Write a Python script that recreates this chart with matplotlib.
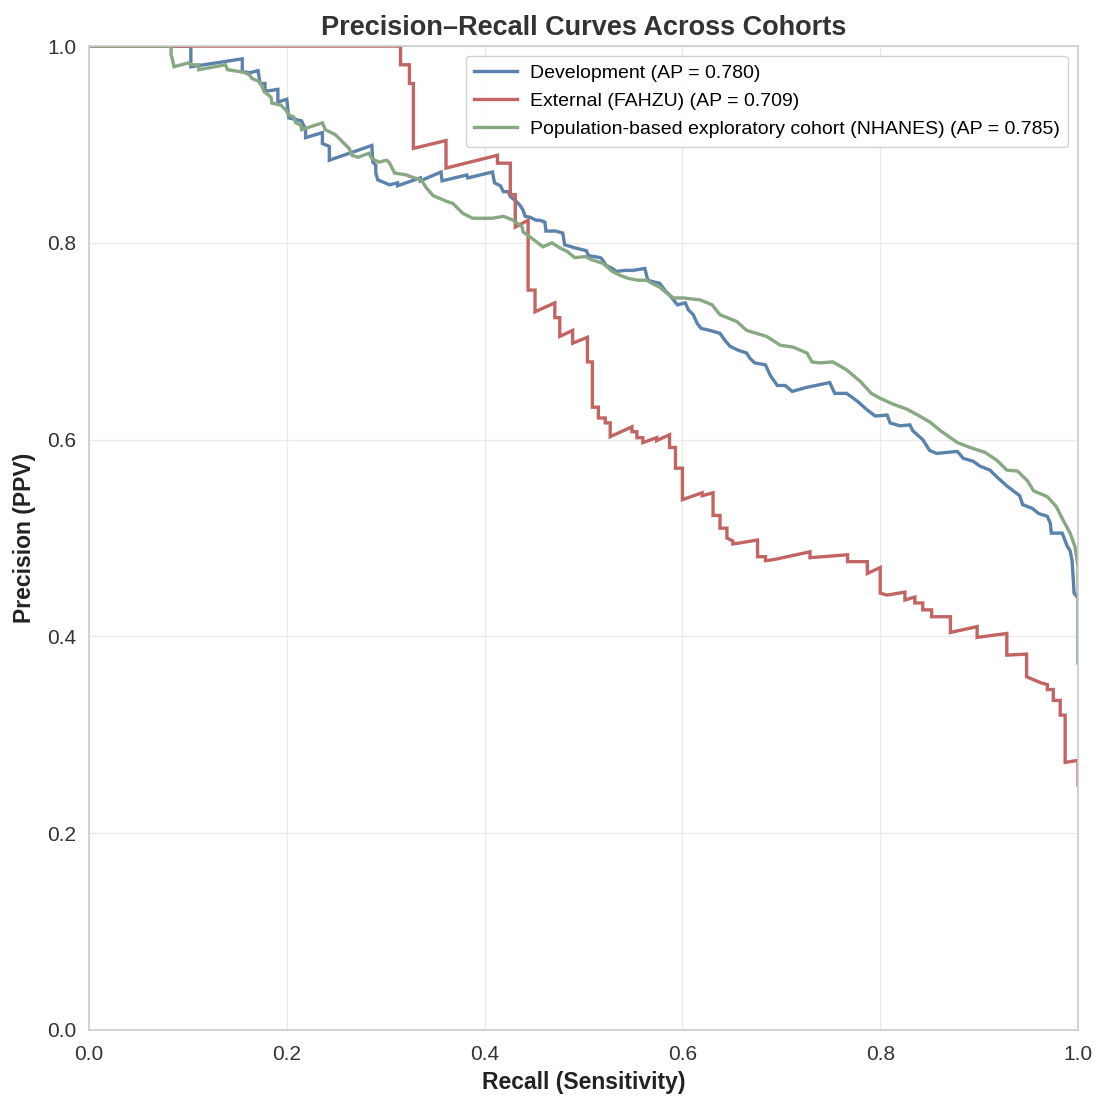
import numpy as np
import matplotlib
matplotlib.use("Agg")
import matplotlib.pyplot as plt

# ---- data (recall, precision vertices) ----
dev_recall = [0.0, 0.103, 0.103, 0.155, 0.155, 0.163, 0.171, 0.173, 0.178, 0.178,
              0.191, 0.191, 0.200, 0.202, 0.215, 0.219, 0.219, 0.236, 0.236, 0.243,
              0.243, 0.286, 0.287, 0.290, 0.290, 0.292, 0.304, 0.312, 0.312, 0.335,
              0.335, 0.356, 0.357, 0.382, 0.383, 0.408, 0.410, 0.416, 0.419, 0.424,
              0.426, 0.431, 0.436, 0.439, 0.441, 0.446, 0.452, 0.456, 0.461, 0.462,
              0.472, 0.479, 0.481, 0.491, 0.503, 0.505, 0.517, 0.519, 0.523, 0.529,
              0.533, 0.542, 0.550, 0.562, 0.565, 0.572, 0.577, 0.583, 0.587, 0.591,
              0.595, 0.603, 0.606, 0.611, 0.615, 0.619, 0.628, 0.638, 0.643, 0.648,
              0.656, 0.665, 0.668, 0.673, 0.684, 0.689, 0.696, 0.704, 0.711, 0.725,
              0.749, 0.754, 0.766, 0.777, 0.787, 0.795, 0.807, 0.810, 0.820, 0.830,
              0.833, 0.843, 0.850, 0.857, 0.878, 0.884, 0.894, 0.901, 0.911, 0.918,
              0.928, 0.941, 0.944, 0.954, 0.960, 0.969, 0.972, 0.973, 0.984, 0.989,
              0.992, 0.994, 0.995, 0.996, 1.0, 1.0]
dev_precision = [1.0, 1.0, 0.979, 0.987, 0.974, 0.973, 0.975, 0.962, 0.962, 0.954,
                 0.956, 0.943, 0.946, 0.927, 0.924, 0.915, 0.907, 0.912, 0.901, 0.898,
                 0.884, 0.899, 0.882, 0.879, 0.871, 0.864, 0.859, 0.861, 0.858, 0.866,
                 0.863, 0.872, 0.863, 0.869, 0.866, 0.872, 0.861, 0.858, 0.852, 0.852,
                 0.847, 0.843, 0.838, 0.833, 0.827, 0.826, 0.823, 0.823, 0.821, 0.812,
                 0.812, 0.810, 0.798, 0.795, 0.792, 0.787, 0.785, 0.783, 0.777, 0.774,
                 0.771, 0.772, 0.772, 0.774, 0.762, 0.760, 0.759, 0.751, 0.747, 0.742,
                 0.737, 0.739, 0.732, 0.727, 0.718, 0.713, 0.711, 0.708, 0.701, 0.695,
                 0.691, 0.688, 0.683, 0.678, 0.676, 0.665, 0.655, 0.655, 0.649, 0.653,
                 0.658, 0.647, 0.647, 0.639, 0.630, 0.624, 0.625, 0.617, 0.614, 0.615,
                 0.609, 0.600, 0.589, 0.586, 0.588, 0.581, 0.578, 0.573, 0.569, 0.562,
                 0.553, 0.543, 0.534, 0.530, 0.525, 0.522, 0.515, 0.505, 0.505, 0.492,
                 0.487, 0.477, 0.461, 0.444, 0.439, 0.373]

ext_recall = [0.0, 0.315, 0.315, 0.324, 0.324, 0.328, 0.328, 0.361, 0.361, 0.413,
              0.413, 0.426, 0.426, 0.431, 0.431, 0.444, 0.444, 0.451, 0.451, 0.471,
              0.471, 0.476, 0.476, 0.489, 0.489, 0.504, 0.504, 0.509, 0.509, 0.515,
              0.515, 0.522, 0.522, 0.527, 0.527, 0.549, 0.549, 0.554, 0.554, 0.560,
              0.560, 0.574, 0.574, 0.587, 0.587, 0.593, 0.593, 0.600, 0.600, 0.620,
              0.620, 0.631, 0.631, 0.638, 0.638, 0.645, 0.645, 0.651, 0.651, 0.658,
              0.676, 0.676, 0.684, 0.684, 0.692, 0.729, 0.729, 0.767, 0.767, 0.787,
              0.787, 0.800, 0.800, 0.807, 0.825, 0.825, 0.835, 0.835, 0.843, 0.843,
              0.852, 0.852, 0.871, 0.871, 0.898, 0.898, 0.928, 0.928, 0.948, 0.948,
              0.955, 0.962, 0.969, 0.969, 0.975, 0.975, 0.982, 0.982, 0.987, 0.987,
              1.0, 1.0]
ext_precision = [1.0, 1.0, 0.981, 0.981, 0.962, 0.962, 0.896, 0.904, 0.876, 0.889,
                 0.881, 0.881, 0.849, 0.849, 0.816, 0.823, 0.752, 0.752, 0.730, 0.739,
                 0.724, 0.724, 0.705, 0.711, 0.698, 0.704, 0.679, 0.679, 0.633, 0.633,
                 0.622, 0.622, 0.617, 0.617, 0.603, 0.613, 0.608, 0.608, 0.602, 0.602,
                 0.597, 0.602, 0.599, 0.605, 0.592, 0.592, 0.571, 0.571, 0.539, 0.546,
                 0.543, 0.546, 0.523, 0.523, 0.510, 0.510, 0.500, 0.497, 0.494, 0.495,
                 0.498, 0.481, 0.481, 0.477, 0.478, 0.486, 0.480, 0.483, 0.476, 0.476,
                 0.464, 0.470, 0.444, 0.442, 0.445, 0.437, 0.440, 0.434, 0.434, 0.427,
                 0.427, 0.420, 0.420, 0.404, 0.410, 0.399, 0.403, 0.381, 0.382, 0.359,
                 0.356, 0.353, 0.351, 0.346, 0.346, 0.335, 0.335, 0.320, 0.320, 0.272,
                 0.274, 0.249]

nh_recall = [0.0, 0.083, 0.083, 0.084, 0.086, 0.101, 0.103, 0.111, 0.111, 0.138,
             0.140, 0.153, 0.157, 0.162, 0.165, 0.172, 0.175, 0.177, 0.184, 0.185,
             0.194, 0.199, 0.202, 0.207, 0.209, 0.214, 0.215, 0.236, 0.239, 0.249,
             0.256, 0.263, 0.266, 0.272, 0.283, 0.286, 0.293, 0.301, 0.304, 0.309,
             0.321, 0.326, 0.336, 0.341, 0.348, 0.362, 0.368, 0.378, 0.388, 0.408,
             0.419, 0.429, 0.438, 0.439, 0.446, 0.459, 0.468, 0.476, 0.484, 0.491,
             0.502, 0.508, 0.520, 0.529, 0.537, 0.545, 0.555, 0.564, 0.569, 0.577,
             0.584, 0.591, 0.601, 0.618, 0.630, 0.638, 0.655, 0.665, 0.675, 0.685,
             0.699, 0.712, 0.726, 0.731, 0.739, 0.752, 0.766, 0.780, 0.791, 0.800,
             0.813, 0.827, 0.838, 0.850, 0.861, 0.871, 0.878, 0.891, 0.906, 0.918,
             0.928, 0.939, 0.949, 0.955, 0.969, 0.978, 0.985, 0.992, 0.997, 1.0, 1.0]
nh_precision = [1.0, 1.0, 0.991, 0.988, 0.979, 0.983, 0.981, 0.981, 0.976, 0.981,
                0.976, 0.974, 0.973, 0.971, 0.967, 0.964, 0.959, 0.954, 0.948, 0.942,
                0.940, 0.935, 0.930, 0.928, 0.922, 0.920, 0.915, 0.922, 0.915, 0.910,
                0.903, 0.896, 0.889, 0.887, 0.891, 0.886, 0.882, 0.884, 0.881, 0.871,
                0.869, 0.867, 0.864, 0.856, 0.848, 0.842, 0.840, 0.830, 0.825, 0.825,
                0.827, 0.823, 0.816, 0.811, 0.806, 0.796, 0.800, 0.795, 0.791, 0.785,
                0.786, 0.783, 0.779, 0.771, 0.767, 0.764, 0.762, 0.762, 0.759, 0.755,
                0.749, 0.744, 0.744, 0.742, 0.737, 0.727, 0.720, 0.711, 0.708, 0.705,
                0.696, 0.694, 0.688, 0.679, 0.678, 0.679, 0.671, 0.659, 0.647, 0.642,
                0.636, 0.631, 0.625, 0.618, 0.609, 0.602, 0.597, 0.592, 0.587, 0.579,
                0.569, 0.568, 0.558, 0.548, 0.542, 0.532, 0.518, 0.505, 0.491, 0.471,
                0.440]

COHORTS = [
    ("Development (AP = 0.780)", dev_recall, dev_precision, "#5B82AC"),
    ("External (FAHZU) (AP = 0.709)", ext_recall, ext_precision, "#C26462"),
    ("Population-based exploratory cohort (NHANES) (AP = 0.785)", nh_recall, nh_precision, "#88A883"),
]

plt.rcParams.update({
    "font.family": ["Liberation Sans", "DejaVu Sans"],
    "axes.edgecolor": "#CCCCCC",
    "axes.linewidth": 1.2,
    "xtick.color": "#333333",
    "ytick.color": "#333333",
    "axes.labelcolor": "#222222",
})

fig, ax = plt.subplots(figsize=(10.97, 10.97), dpi=100)
fig.subplots_adjust(left=0.0811, right=0.9827, bottom=0.0611, top=0.958)

for label, r, p, c in COHORTS:
    ax.plot(r, p, color=c, lw=2.4, label=label, solid_joinstyle="miter")

ax.set_xlim(0, 1)
ax.set_ylim(0, 1)
ax.set_xticks(np.arange(0, 1.01, 0.2))
ax.set_yticks(np.arange(0, 1.01, 0.2))
ax.tick_params(axis="x", labelsize=15, length=0, pad=11)
ax.tick_params(axis="y", labelsize=15, length=0, pad=9)
ax.grid(True, color="#EBEBEB", linewidth=1.0)
ax.set_axisbelow(True)

ax.set_xlabel("Recall (Sensitivity)", fontsize=16.5, fontweight="bold", labelpad=5)
ax.set_ylabel("Precision (PPV)", fontsize=16.5, fontweight="bold", labelpad=8)
ax.set_title("Precision\u2013Recall Curves Across Cohorts", fontsize=19.5,
             fontweight="bold", color="#333333", pad=8)

leg = ax.legend(loc="upper right", fontsize=14, frameon=True, framealpha=0.9,
                edgecolor="#CCCCCC", handlelength=2.2, handletextpad=0.65,
                borderaxespad=0.5, borderpad=0.45, labelspacing=0.53)
leg.get_frame().set_linewidth(1.0)

fig.savefig("out.png", dpi=100)
